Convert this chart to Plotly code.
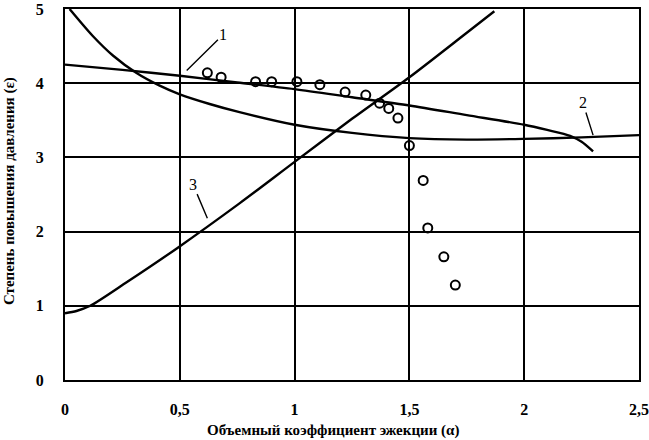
import plotly.graph_objects as go

# curve 1
c1_x = [0, 0.25, 0.5, 0.75, 1.0, 1.25, 1.5, 1.75, 2.0, 2.1, 2.2, 2.25, 2.3]
c1_y = [4.25, 4.18, 4.10, 4.01, 3.92, 3.81, 3.70, 3.57, 3.44, 3.37, 3.29, 3.21, 3.08]

# curve 2
c2_x = [0.02, 0.12, 0.21, 0.31, 0.41, 0.5, 0.63, 0.76, 1.0, 1.25, 1.5, 1.75, 2.0, 2.25, 2.5]
c2_y = [5.0, 4.64, 4.37, 4.14, 3.97, 3.85, 3.72, 3.61, 3.44, 3.33, 3.26, 3.24, 3.25, 3.27, 3.30]

# curve 3
c3_x = [0, 0.05, 0.11, 0.27, 0.49, 0.76, 1.0, 1.25, 1.5, 1.75, 1.87]
c3_y = [0.90, 0.93, 1.0, 1.32, 1.78, 2.38, 2.94, 3.52, 4.08, 4.68, 4.97]

# experimental points
pt_x = [0.62, 0.68, 0.83, 0.90, 1.01, 1.11, 1.22, 1.31, 1.37, 1.41, 1.45, 1.50, 1.56, 1.58, 1.65, 1.70]
pt_y = [4.14, 4.08, 4.02, 4.02, 4.02, 3.98, 3.88, 3.84, 3.73, 3.66, 3.53, 3.16, 2.69, 2.05, 1.66, 1.28]

x_ticks = [0, 0.5, 1, 1.5, 2, 2.5]
x_tick_text = ["0", "0,5", "1", "1,5", "2", "2,5"]
y_ticks = [0, 1, 2, 3, 4, 5]

FONT = "Liberation Serif"
line = dict(color="black", width=2.4, shape="spline", smoothing=0.8)

fig = go.Figure()
for xs, ys in [(c1_x, c1_y), (c2_x, c2_y), (c3_x, c3_y)]:
    fig.add_trace(go.Scatter(x=xs, y=ys, mode="lines", line=line, hoverinfo="skip"))
fig.add_trace(
    go.Scatter(
        x=pt_x,
        y=pt_y,
        mode="markers",
        marker=dict(symbol="circle-open", size=9, color="black", line=dict(width=2)),
    )
)

# leader labels
for txt, px, py, ax, ay in [("1", 0.53, 4.17, 0.69, 4.66), ("2", 2.30, 3.30, 2.255, 3.74), ("3", 0.62, 2.18, 0.557, 2.64)]:
    fig.add_annotation(
        x=px, y=py, ax=ax, ay=ay, axref="x", ayref="y",
        text=txt, showarrow=True, arrowhead=0, arrowwidth=1.4, arrowcolor="black",
        font=dict(family=FONT, size=16, color="black"),
    )

fig.add_annotation(
    text="<b>Объемный коэффициент эжекции (α)</b>", xref="paper", yref="paper",
    x=0.467, y=-0.135, xanchor="center", yanchor="middle", showarrow=False,
    font=dict(family=FONT, size=15, color="black"),
)
fig.add_annotation(
    text="<b>Степень повышения давления (ε)</b>", xref="paper", yref="paper",
    x=-0.097, y=0.51, xanchor="center", yanchor="middle", showarrow=False, textangle=-90,
    font=dict(family=FONT, size=15, color="black"),
)

axis_common = dict(
    showgrid=True, gridcolor="black", gridwidth=2,
    showline=True, linecolor="black", linewidth=2, mirror=True,
    zeroline=False, ticks="", automargin=False, ticklabeloverflow="allow",
    tickfont=dict(family=FONT, size=16, color="black", weight="bold"),
)
fig.update_layout(
    width=649, height=440,
    margin=dict(l=65, r=10, t=9, b=60),
    paper_bgcolor="white", plot_bgcolor="white",
    showlegend=False,
    xaxis=dict(range=[0, 2.5], tickvals=x_ticks, ticktext=x_tick_text, ticklabelstandoff=14, **axis_common),
    yaxis=dict(range=[0, 5], tickvals=y_ticks, ticklabelstandoff=16, **axis_common),
)

# page body has a default 8px margin; drop it so the figure fills the window
fig.write_html(
    "out.html",
    config={"displayModeBar": False},
    post_script="document.body.style.margin='0';",
)
